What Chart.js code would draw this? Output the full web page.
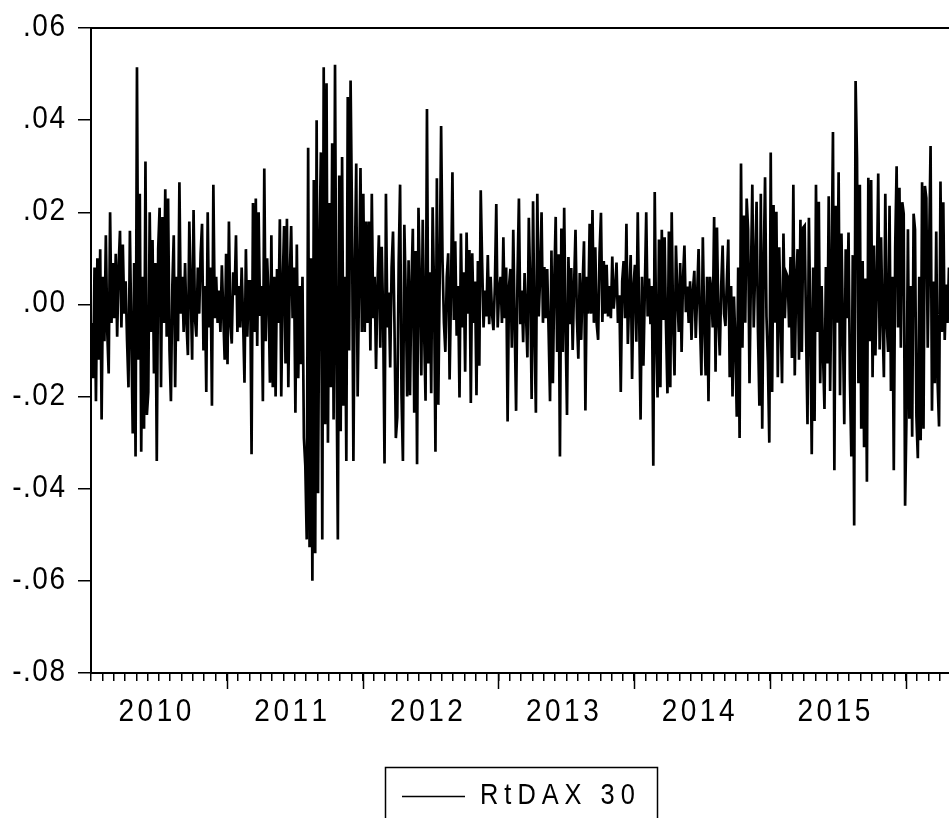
<!DOCTYPE html>
<html>
<head>
<meta charset="utf-8">
<script src="https://cdn.jsdelivr.net/npm/chart.js@4.4.1/dist/chart.umd.min.js"></script>
<style>
  html, body { margin: 0; padding: 0; background: #fff; overflow: hidden; }
  #wrap { width: 949px; height: 818px; }
</style>
</head>
<body>
<div id="wrap"><canvas id="rt-chart"></canvas></div>
<script>
// daily log returns of the DAX 30 (8 readings per month)
var ret2010 = [
  -.004, -.016, .008, -.021, .01, -.012, .012, -.025,
  .006, -.008, .015, -.006, -.015, .02, -.004, .009,
  -.003, .011, -.007, .008, .016, -.005, .013, -.002,
  .005, -.008, -.018, .016, -.006, -.028, .009, -.033,
  .0515, -.012, .024, -.032, .006, -.027, .031, -.024,
  -.019, .02, -.006, .014, -.015, .009, -.034, .012,
  .021, -.018, .019, -.004, .025, -.007, .023, -.01,
  -.021, .004, .015, -.018, .006, -.008, .0265, -.002,
  .006, -.006, .009, -.004, -.011, .018, .003, -.012,
  .0205, -.003, -.007, .008, -.002, .011, .0175, -.01,
  .004, -.019, .02, -.005, .008, -.022, .026, -.003,
  .006, -.004, .003, -.006, .0085, -.002, -.012, .011
];
var ret2011 = [
  -.013, .018, -.004, -.0085, .007, .002, .015, -.006,
  .004, -.005, .008, -.003, -.017, .012, -.007, .005,
  .005, -.0325, .022, -.006, .023, -.009, .02, -.0025,
  .004, -.021, .0295, -.008, .01, .002, -.017, .015,
  -.018, .006, -.02, .0077, -.004, .0185, -.02, .004,
  .017, -.0128, .0186, -.018, .006, .017, -.003, .008,
  -.0235, .013, -.016, .004, -.013, .006, -.029, -.035,
  -.051, .034, -.0527, .01, -.06, .027, -.054, .04,
  -.041, .012, .033, -.051, .0515, -.026, .048, -.03,
  .022, -.018, .035, -.025, .052, -.01, -.051, .028,
  -.0275, .032, -.022, .006, -.034, .045, -.01, .0486,
  .019, -.034, .008, .0306, -.02, .005, .0296, -.006
];
var ret2012 = [
  .024, -.006, .018, -.004, .018, -.01, .024, -.003,
  .006, -.014, .004, .015, -.0094, .0125, -.002, -.0345,
  .024, -.005, .0026, -.0137, .008, .0158, -.004, -.029,
  -.0245, .009, .026, -.0197, -.034, .0173, .002, -.02,
  .0096, -.0197, .004, .0164, -.0235, .0116, -.0347, .021,
  .004, -.0154, .0184, -.006, -.0209, .0424, -.0128, .007,
  -.0193, .0211, .003, -.032, .0274, -.0218, .006, .0387,
  .0094, -.004, -.0103, .006, .0111, -.0163, .003, .0287,
  -.0034, .0137, -.0068, .004, -.0202, .0154, -.005, .007,
  -.0146, .0156, -.002, .0118, -.0214, .0111, -.004, .005,
  -.0197, .0094, -.0133, .0248, .009, -.005, .003, -.0026,
  .0107, -.0043, .006, -.002, -.0056, .004, .0218, -.005
];
var ret2013 = [
  .003, .006, -.004, .0146, -.003, .008, -.0254, .004,
  .0077, -.0094, .0162, -.004, -.0231, .006, .023, -.0043,
  .003, -.0082, .0068, -.002, -.0115, .0188, .004, -.0205,
  .0224, -.006, -.0235, .024, -.0026, .006, .02, -.004,
  .0081, -.003, .0077, -.006, -.021, .0117, -.0171, .005,
  .019, -.0103, .0109, -.033, .0165, -.0103, .021, -.005,
  -.024, .0103, -.0043, .0079, -.0099, .004, .0162, -.003,
  -.0118, .0068, -.0077, .004, .0137, -.023, .006, -.002,
  .0175, -.002, .0205, -.004, .0124, -.0043, -.0077, .0111,
  .0199, -.0038, .0094, -.002, .0086, -.0026, .004, -.003,
  .0104, -.0009, .003, .0091, -.004, .002, -.019, .005,
  .0094, -.003, .0175, -.0086, .002, .0107, -.0162, .004
];
var ret2014 = [
  .0086, -.0081, .02, -.0026, -.025, .006, -.0133, .003,
  .02, -.0026, .0056, -.0043, .004, -.035, .0244, -.006,
  -.0202, .0141, -.018, .0162, -.0034, .0146, -.005, -.0193,
  .0158, -.018, .02, -.004, -.0154, .0128, .002, -.006,
  .009, -.0103, .0056, .0128, -.0017, .0039, -.004, .005,
  -.0077, .003, .0073, -.0073, .002, .012, -.004, -.0154,
  .0146, -.004, -.0154, .006, -.021, .006, .003, -.005,
  .019, -.0146, .0167, -.003, -.0111, .004, .0128, -.002,
  -.0047, .005, .0141, -.0158, .004, -.02, .0017, -.008,
  -.0244, .008, -.029, .0306, -.0094, .0193, -.004, .023,
  .0163, -.0171, .006, .026, -.005, .0077, .0223, -.006,
  -.022, .024, -.027, .008, .0276, -.0026, -.0124, -.03
];
var ret2015 = [
  .033, -.019, .0216, -.004, .0201, -.0158, .0124, -.002,
  -.0171, .0154, -.003, .0068, .006, -.005, .0103, -.0116,
  .026, -.0154, .005, .012, -.012, .0184, -.0103, .0167,
  .0171, -.006, -.026, .0188, -.004, -.0325, .008, -.0253,
  .026, -.006, .0223, -.0171, .004, -.0111, -.0227, .0081,
  -.0128, .0235, -.0188, .006, .0374, -.036, .0214, -.004,
  .0287, -.0197, .0154, -.004, -.026, .012, -.003, .0156,
  -.0163, -.033, .0107, -.048, .0485, .0317, -.0171, .026,
  -.027, .0094, -.031, .0056, -.0385, .0275, -.008, .027,
  -.0158, .0128, -.0111, .004, .0284, -.0098, .0146, -.003,
  -.0158, .024, -.004, -.0103, .0214, -.0188, .006, -.036,
  .0124, .03, -.005, .0253, -.0094, .0222, .0197, -.0437
];
var ret2016 = [
  -.0235, .0163, -.0248, .004, -.0287, .0197, .0163, -.0244,
  -.0334, .006, -.0295, .0265, -.027, .0257, .0231, -.0094,
  .0128, .0344, -.0231, .005, -.0171, .0158, -.0171, -.0265,
  .0267, -.006, .0222, -.0077, .0043, -.004, .008, -.003
];

var years = [2010, 2011, 2012, 2013, 2014, 2015, 2016];
var yearLabels = ['2010', '2011', '2012', '2013', '2014', '2015'];
var yTicks = [-.08, -.06, -.04, -.02, 0, .02, .04, .06];
var yTickLabels = ['-.08', '-.06', '-.04', '-.02', '.00', '.02', '.04', '.06'];
var seriesName = 'RtDAX 30';

var FONT = "'Liberation Sans', Arial, sans-serif";

var yearly = [ret2010, ret2011, ret2012, ret2013, ret2014, ret2015, ret2016];
var points = [];
yearly.forEach(function (arr, k) {
  arr.forEach(function (v, i) {
    points.push({ x: years[k] + (i + 0.5) / 96, y: v });
  });
});

var monthTicks = [];
for (var m = 0; m < 76; m++) monthTicks.push(2010 + m / 12);

// condensed, letter-spaced text like the EViews output
function narrowText(ctx, str, x, baseline, align, size, gap) {
  var sx = 0.875;
  ctx.save();
  ctx.font = size + 'px ' + FONT;
  ctx.textAlign = 'left';
  ctx.textBaseline = 'alphabetic';
  var widths = [], total = 0;
  for (var i = 0; i < str.length; i++) {
    var w = ctx.measureText(str[i]).width * sx;
    widths.push(w);
    total += w;
  }
  total += gap * (str.length - 1);
  var start = align === 'right' ? x - total : align === 'center' ? x - total / 2 : x;
  var cx = start;
  for (var j = 0; j < str.length; j++) {
    ctx.save();
    ctx.translate(cx, baseline);
    ctx.scale(sx, 1);
    ctx.fillText(str[j], 0, 0);
    ctx.restore();
    cx += widths[j] + gap;
  }
  ctx.restore();
}

// frame, long year ticks, axis texts, boxed legend
var evPlugin = {
  id: 'evFrame',
  afterDraw: function (chart) {
    var ctx = chart.ctx, a = chart.chartArea, xs = chart.scales.x, ys = chart.scales.y;
    ctx.save();
    ctx.strokeStyle = '#000';
    ctx.fillStyle = '#000';
    ctx.lineWidth = 2;
    ctx.beginPath();
    ctx.moveTo(a.left, a.top);
    ctx.lineTo(a.right + 5, a.top);
    ctx.stroke();
    ctx.lineWidth = 1.5;
    for (var y = 2011; y <= 2016; y++) {
      var px = Math.round(xs.getPixelForValue(y)) + 0.5;
      ctx.beginPath();
      ctx.moveTo(px, a.bottom);
      ctx.lineTo(px, a.bottom + 16);
      ctx.stroke();
    }
    yTicks.forEach(function (v, i) {
      narrowText(ctx, yTickLabels[i], 65, ys.getPixelForValue(v) + 8, 'right', 32, 1.5);
    });
    yearLabels.forEach(function (lab, i) {
      narrowText(ctx, lab, xs.getPixelForValue(years[i] + 0.5) - 4, 721, 'center', 32, 3.5);
    });
    // legend
    ctx.lineWidth = 1.5;
    ctx.strokeRect(385.5, 767.5, 272, 80);
    ctx.beginPath();
    ctx.moveTo(402, 796.5);
    ctx.lineTo(465, 796.5);
    ctx.stroke();
    narrowText(ctx, seriesName, 480, 804, 'left', 29, 6);
    ctx.restore();
  }
};

new Chart(document.getElementById('rt-chart'), {
  type: 'line',
  data: {
    datasets: [{
      label: seriesName,
      data: points,
      borderColor: '#000',
      borderWidth: 2.7,
      pointRadius: 0,
      tension: 0,
      fill: false
    }]
  },
  options: {
    responsive: true,
    maintainAspectRatio: false,
    animation: false,
    devicePixelRatio: 1,
    layout: { padding: { top: 28, left: 0, right: 0, bottom: 0 } },
    plugins: {
      legend: { display: false },
      tooltip: { enabled: false }
    },
    scales: {
      x: {
        type: 'linear',
        min: 2010,
        max: 2016.318,
        afterBuildTicks: function (s) {
          s.ticks = monthTicks.map(function (v) { return { value: v }; });
        },
        afterFit: function (s) { s.height = 145; },
        ticks: {
          autoSkip: false,
          maxRotation: 0,
          callback: function () { return ''; }
        },
        grid: { drawOnChartArea: false, tickLength: 8, color: '#000', lineWidth: 1.5 },
        border: { display: true, color: '#000', width: 2 }
      },
      y: {
        min: -0.08,
        max: 0.06,
        afterBuildTicks: function (s) {
          s.ticks = yTicks.map(function (v) { return { value: v }; });
        },
        afterFit: function (s) { s.width = 91; },
        ticks: {
          callback: function () { return ''; }
        },
        grid: { drawOnChartArea: false, tickLength: 13, color: '#000', lineWidth: 1.5 },
        border: { display: true, color: '#000', width: 2 }
      }
    }
  },
  plugins: [evPlugin]
});
</script>
</body>
</html>
